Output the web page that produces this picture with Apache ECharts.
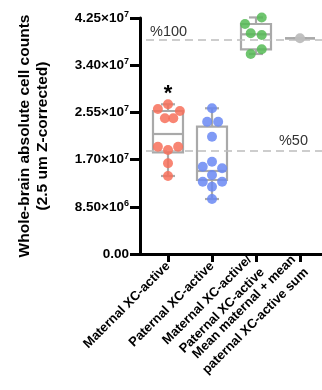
<!DOCTYPE html>
<html><head><meta charset="utf-8">
<script src="https://cdn.jsdelivr.net/npm/echarts/dist/echarts.min.js"></script>
<style>html,body{margin:0;padding:0;background:#fff}#c{width:322px;height:390px}</style>
</head><body><div id="c"></div>
<script>
const categories = ['Maternal XC-active','Paternal XC-active','Maternal XC-active/\nPaternal XC-active','Mean maternal + mean\npaternal XC-active sum'];
const maternalValues = [2.696e7, 2.611e7, 2.575e7, 2.444e7, 2.444e7, 1.932e7, 1.932e7, 1.873e7, 1.633e7, 1.405e7];
const maternalJitter = [0, -0.23, 0.27, -0.07, 0.12, -0.23, 0.23, 0, 0, 0];
const paternalValues = [2.624e7, 2.383e7, 2.383e7, 2.112e7, 1.662e7, 1.572e7, 1.543e7, 1.423e7, 1.302e7, 1.302e7, 1.212e7, 0.990e7];
const paternalJitter = [0, -0.11, 0.14, 0, 0, -0.21, 0.23, 0, -0.21, 0.23, 0, 0];
const ratioValues = [4.260e7, 4.142e7, 3.974e7, 3.944e7, 3.686e7, 3.602e7];
const ratioJitter = [0.13, -0.25, -0.12, 0.13, 0.13, -0.12];
const sumValues = [3.884e7];
const sumJitter = [0];
// [min, Q1, median, Q3, max]
const boxStats = [
  [1.405e7, 1.831e7, 2.161e7, 2.575e7, 2.696e7],
  [0.990e7, 1.333e7, 1.495e7, 2.293e7, 2.624e7],
  [3.602e7, 3.686e7, 3.956e7, 4.142e7, 4.260e7],
  [3.884e7, 3.884e7, 3.884e7, 3.884e7, 3.884e7]
];
const refLineValues = [3.854e7, 1.864e7];
const refLineLabels = ['%100', '%50'];
const starValue = 2.88e7;
const yMin = 0, yMax = 4.25e7, yStep = 8.5e6;

const chart = echarts.init(document.getElementById('c'), null, {renderer: 'canvas'});

function pts(vals, jit, idx) { return vals.map((v, k) => [idx + jit[k], v]); }

function yFmt(v) {
  if (v === 0) return '{m|0.00}';
  const e = Math.floor(Math.log10(v) + 1e-9);
  const m = v / Math.pow(10, e);
  return '{m|' + m.toFixed(2) + '×10}{e|' + e + '}';
}

const FF = 'Liberation Sans, Arial, sans-serif';
const boxColor = '#a9a9a9';
const scatterBase = {
  type: 'scatter', xAxisIndex: 2, yAxisIndex: 1, symbolSize: 10, z: 5, clip: false
};

const option = {
  animation: false,
  grid: [
    {left: 140, right: 0, top: 18, bottom: 136},
    {left: 146, right: 0, top: 18, bottom: 136}
  ],
  xAxis: [
    {gridIndex: 0, type: 'value', min: 0, max: 1, position: 'bottom',
      axisLine: {show: true, lineStyle: {color: '#000', width: 3}},
      axisTick: {show: false}, axisLabel: {show: false}, splitLine: {show: false}},
    {gridIndex: 1, type: 'category', data: categories, position: 'bottom',
      axisLine: {show: false},
      axisTick: {show: true, alignWithLabel: true, length: 8, lineStyle: {color: '#000', width: 3}},
      axisLabel: {rotate: 45, interval: 0, margin: 10, color: '#000', fontWeight: 'bold', fontSize: 13,
        fontFamily: FF, align: 'right', lineHeight: 18},
      splitLine: {show: false}},
    {gridIndex: 1, type: 'value', min: -0.5, max: 3.5, position: 'bottom', show: false}
  ],
  yAxis: [
    {gridIndex: 0, type: 'value', min: yMin, max: yMax, interval: yStep,
      axisLine: {show: true, lineStyle: {color: '#000', width: 3}},
      axisTick: {show: true, length: 10, lineStyle: {color: '#000', width: 3}},
      splitLine: {show: false},
      axisLabel: {margin: 11, formatter: yFmt,
        rich: {
          m: {fontSize: 13.5, fontWeight: 'bold', color: '#000', fontFamily: FF},
          e: {fontSize: 9, fontWeight: 'bold', color: '#000', fontFamily: FF, verticalAlign: 'top', padding: [0, 0, 7, 0]}
        }},
      name: 'Whole-brain absolute cell counts\n(2.5 um Z-corrected)',
      nameLocation: 'middle', nameGap: 88,
      nameTextStyle: {fontSize: 15.5, fontWeight: 'bold', color: '#000', lineHeight: 18, fontFamily: FF}
    },
    {gridIndex: 1, type: 'value', min: yMin, max: yMax, show: false}
  ],
  series: [
    {
      type: 'custom', xAxisIndex: 1, yAxisIndex: 1, z: 2,
      data: boxStats.map((s, i) => [i].concat(s)),
      markLine: {
        silent: true, symbol: 'none',
        lineStyle: {type: [8, 5], color: '#bdbdbd', width: 1.6},
        data: refLineValues.map((v, k) => ({
          yAxis: v,
          label: {show: true, formatter: refLineLabels[k],
            position: k === 0 ? 'insideStartTop' : 'insideEndTop',
            distance: k === 0 ? [4, 0] : [14, 2],
            color: '#333', fontSize: 14.5, fontFamily: FF}
        }))
      },
      renderItem: function (params, api) {
        const i = api.value(0);
        const p = [1, 2, 3, 4, 5].map(k => api.coord([i, api.value(k)]));
        const x = p[0][0];
        const hw = 15, cw = 7;
        const st = {stroke: boxColor, lineWidth: 2.2, fill: null};
        const line = (x1, y1, x2, y2) => ({type: 'line', shape: {x1, y1, x2, y2}, style: st});
        return {type: 'group', children: [
          line(x, p[0][1], x, p[1][1]),
          line(x, p[3][1], x, p[4][1]),
          line(x - cw, p[0][1], x + cw, p[0][1]),
          line(x - cw, p[4][1], x + cw, p[4][1]),
          {type: 'rect', shape: {x: x - hw, y: p[3][1], width: 2 * hw, height: p[1][1] - p[3][1]}, style: st},
          line(x - hw, p[2][1], x + hw, p[2][1])
        ]};
      }
    },
    Object.assign({}, scatterBase, {
      data: pts(maternalValues, maternalJitter, 0),
      itemStyle: {color: '#f7705b', opacity: 0.85},
      markPoint: {symbol: 'circle', symbolSize: 0,
        data: [{coord: [0, starValue], value: '*'}],
        label: {show: true, formatter: '*', color: '#000', fontSize: 22, fontWeight: 'bold', position: 'inside'}}
    }),
    Object.assign({}, scatterBase, {
      data: pts(paternalValues, paternalJitter, 1),
      itemStyle: {color: '#6a88f3', opacity: 0.85}
    }),
    Object.assign({}, scatterBase, {
      data: pts(ratioValues, ratioJitter, 2),
      itemStyle: {color: '#56bb56', opacity: 0.85}
    }),
    Object.assign({}, scatterBase, {
      data: pts(sumValues, sumJitter, 3),
      itemStyle: {color: '#bdbdbd', opacity: 0.95}
    })
  ]
};
chart.setOption(option);
</script>
</body></html>
